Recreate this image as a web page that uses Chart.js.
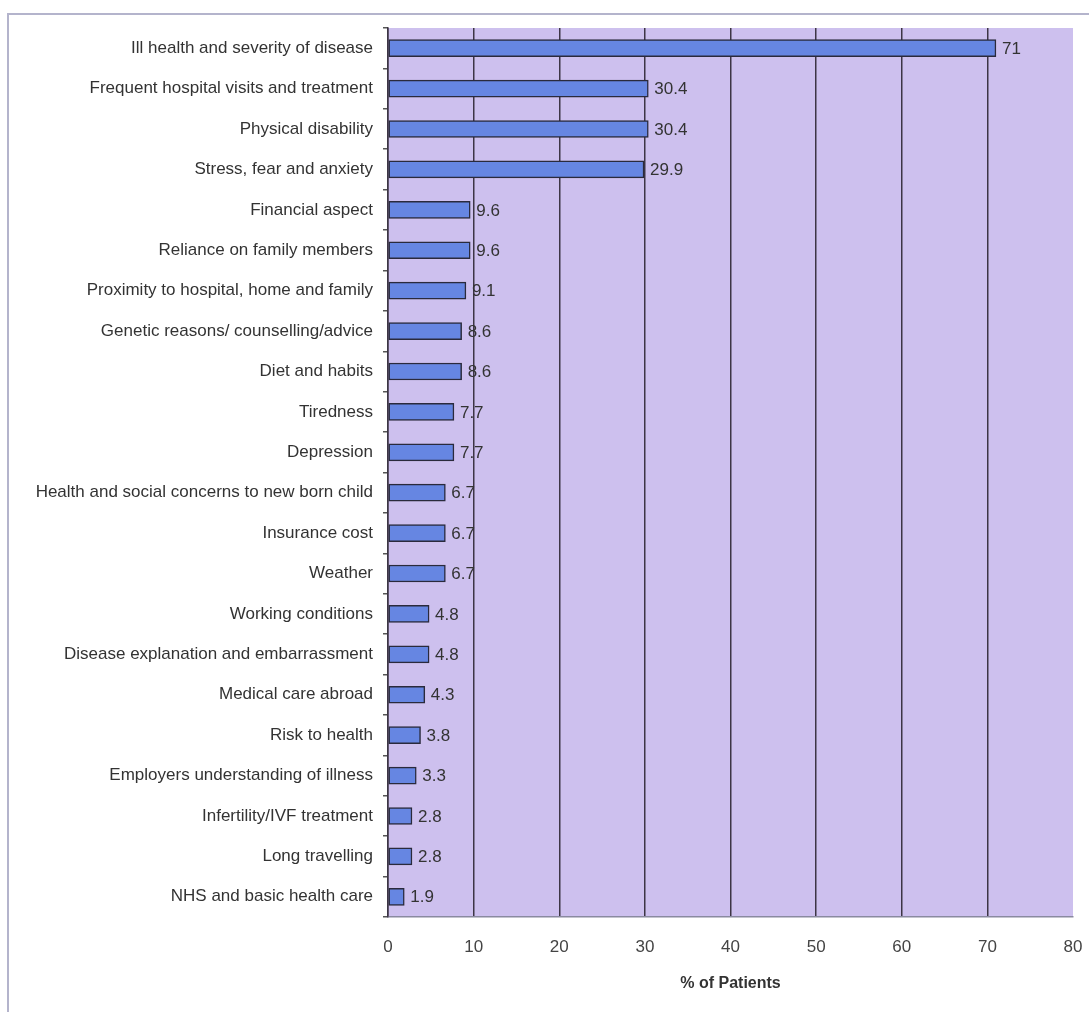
<!DOCTYPE html>
<html lang="en">
<head>
  <meta charset="UTF-8">
  <title>% of Patients</title>
  <script src="https://cdn.jsdelivr.net/npm/chart.js"></script>
  <style>
    body { margin: 0; background: #fff; }
    .wrap { position: relative; width: 1089px; height: 1012px; }
    .frame { position: absolute; left: 7px; top: 13px; right: -2px; bottom: -2px; border-left: 2px solid #b4b4cc; border-top: 2px solid #b4b4cc; }
    canvas { position: absolute; left: 0; top: 0; }
  </style>
</head>
<body>
  <div class="wrap">
    <div class="frame"></div>
    <canvas id="chart" width="1089" height="1012"></canvas>
  </div>
  <script>
    const categories = [
      'Ill health and severity of disease',
      'Frequent hospital visits and treatment',
      'Physical disability',
      'Stress, fear and anxiety',
      'Financial aspect',
      'Reliance on family members',
      'Proximity to hospital, home and family',
      'Genetic reasons/ counselling/advice',
      'Diet and habits',
      'Tiredness',
      'Depression',
      'Health and social concerns to new born child',
      'Insurance cost',
      'Weather',
      'Working conditions',
      'Disease explanation and embarrassment',
      'Medical care abroad',
      'Risk to health',
      'Employers understanding of illness',
      'Infertility/IVF treatment',
      'Long travelling',
      'NHS and basic health care'
    ];
    const patientPercent = [71, 30.4, 30.4, 29.9, 9.6, 9.6, 9.1, 8.6, 8.6, 7.7, 7.7, 6.7, 6.7, 6.7, 4.8, 4.8, 4.3, 3.8, 3.3, 2.8, 2.8, 1.9];
    const xTicks = [0, 10, 20, 30, 40, 50, 60, 70, 80];

    const FONT = "'Liberation Sans', Arial, sans-serif";
    const GRID = '#3d3545';

    // lavender plot background
    const plotBg = {
      id: 'plotBg',
      beforeDraw(chart) {
        const { ctx, chartArea: a } = chart;
        ctx.save();
        ctx.fillStyle = '#cdc0ee';
        ctx.fillRect(a.left, a.top, a.right - a.left, a.bottom - a.top);
        ctx.restore();
      }
    };

    // value labels to the right of each bar
    const valueLabels = {
      id: 'valueLabels',
      afterDatasetsDraw(chart) {
        const { ctx } = chart;
        const meta = chart.getDatasetMeta(0);
        ctx.save();
        ctx.font = '17px ' + FONT;
        ctx.fillStyle = '#333';
        ctx.textBaseline = 'middle';
        ctx.textAlign = 'left';
        meta.data.forEach((bar, i) => {
          ctx.fillText(String(patientPercent[i]), bar.x + 6, bar.y + 1);
        });
        ctx.restore();
      }
    };

    new Chart(document.getElementById('chart'), {
      type: 'bar',
      data: {
        labels: categories,
        datasets: [{
          data: patientPercent,
          backgroundColor: '#6686e2',
          borderColor: '#2a2a3c',
          borderWidth: 1.5,
          borderSkipped: false,
          barThickness: 17
        }]
      },
      options: {
        indexAxis: 'y',
        responsive: false,
        animation: false,
        layout: { padding: { top: 28, right: 16, left: 0, bottom: 0 } },
        plugins: { legend: { display: false }, tooltip: { enabled: false } },
        scales: {
          x: {
            min: 0,
            max: 80,
            afterBuildTicks: s => { s.ticks = xTicks.map(v => ({ value: v })); },
            afterFit: s => { s.height = 95; s.paddingLeft = 0; s.paddingRight = 0; },
            grid: {
              color: c => (c.tick && c.tick.value === 80) ? 'rgba(0,0,0,0)' : GRID,
              lineWidth: 1.5,
              drawTicks: false
            },
            border: { color: '#8a8aa0', width: 1.5 },
            ticks: { color: '#444', font: { family: FONT, size: 17 }, padding: 20 },
            title: {
              display: true,
              text: '% of Patients',
              color: '#333',
              font: { family: FONT, size: 16, weight: 'bold' },
              padding: { top: 0, bottom: 19 }
            }
          },
          y: {
            afterFit: s => { s.width = 388; },
            grid: {
              offset: true,
              drawOnChartArea: false,
              drawTicks: true,
              tickLength: 5,
              color: '#555',
              lineWidth: 1.5
            },
            border: { color: GRID, width: 1.5 },
            ticks: { color: '#333', font: { family: FONT, size: 17 }, padding: 10, autoSkip: false }
          }
        }
      },
      plugins: [plotBg, valueLabels]
    });
  </script>
</body>
</html>
